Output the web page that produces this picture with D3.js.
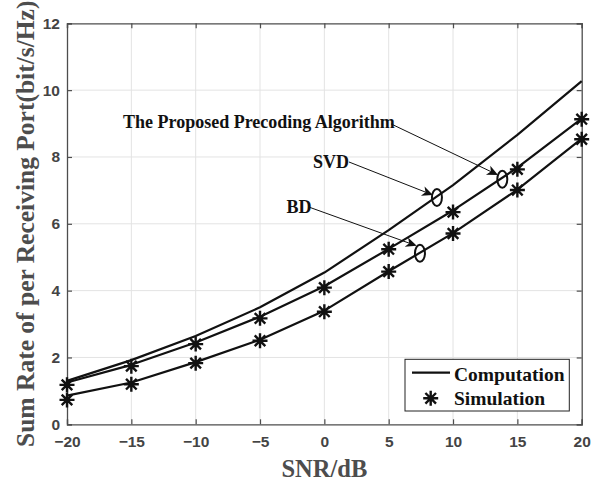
<!DOCTYPE html>
<html>
<head>
<meta charset="utf-8">
<script src="https://cdn.jsdelivr.net/npm/d3@7"></script>
<style>
  html, body { margin: 0; padding: 0; background: #fff; }
  svg { display: block; }
</style>
</head>
<body>
<svg id="chart" width="606" height="483"></svg>
<script>
// ---- data ----
const snr = [-20, -15, -10, -5, 0, 5, 10, 15, 20];
const proposedComp = [1.30, 1.92, 2.64, 3.50, 4.54, 5.81, 7.16, 8.66, 10.27];
const svdComp = [1.25, 1.78, 2.45, 3.22, 4.13, 5.25, 6.40, 7.68, 9.15];
const svdSim = [1.18, 1.74, 2.40, 3.17, 4.09, 5.24, 6.35, 7.63, 9.13];
const bdComp = [0.86, 1.25, 1.86, 2.53, 3.40, 4.58, 5.72, 7.02, 8.55];
const bdSim = [0.73, 1.20, 1.83, 2.50, 3.37, 4.57, 5.71, 7.01, 8.53];
const xTicks = [-20, -15, -10, -5, 0, 5, 10, 15, 20];
const yTicks = [0, 2, 4, 6, 8, 10, 12];
const annotations = [
  { label: "The Proposed Precoding Algorithm", tx: -15.65, ty: 8.87, sx: 5.18, sy: 8.99, ex: 13.5, ey: 7.46, cx: 13.83, cy: 7.33 },
  { label: "SVD", tx: -0.88, ty: 7.67, sx: 1.91, sy: 7.85, ex: 8.44, ey: 6.86, cx: 8.75, cy: 6.79 },
  { label: "BD", tx: -2.95, ty: 6.32, sx: -1.12, sy: 6.49, ex: 7.18, ey: 5.34, cx: 7.43, cy: 5.12 }
];
const legendItems = ["Computation", "Simulation"];
const xLabel = "SNR/dB";
const yLabel = "Sum Rate of per Receiving Port(bit/s/Hz)";

// ---- layout ----
const svg = d3.select("#chart");
const L = 67, R = 581.7, T = 23.3, B = 424.3;
const x = d3.scaleLinear().domain([-20, 20]).range([L, R]);
const y = d3.scaleLinear().domain([0, 12]).range([B, T]);
const axisColor = "#4d4d4d";
const tickFont = "Arial, 'Liberation Sans', Helvetica, sans-serif";
const serif = "'Times New Roman', 'Liberation Serif', Times, serif";

// grid
const grid = svg.append("g");
grid.selectAll("line.gx").data(xTicks.slice(1, -1)).enter().append("line")
  .attr("x1", d => x(d)).attr("x2", d => x(d)).attr("y1", T).attr("y2", B)
  .attr("stroke", "#e3e3e3").attr("stroke-width", 1);
grid.selectAll("line.gy").data(yTicks.slice(1, -1)).enter().append("line")
  .attr("y1", d => y(d)).attr("y2", d => y(d)).attr("x1", L).attr("x2", R)
  .attr("stroke", "#e3e3e3").attr("stroke-width", 1);

// axes (box)
const xAxisB = d3.axisBottom(x).tickValues(xTicks).tickSize(-5).tickPadding(12).tickFormat(d3.format("d"));
const xAxisT = d3.axisTop(x).tickValues(xTicks).tickSize(-5).tickFormat("");
const yAxisL = d3.axisLeft(y).tickValues(yTicks).tickSize(-5).tickPadding(7).tickFormat(d3.format("d"));
const yAxisR = d3.axisRight(y).tickValues(yTicks).tickSize(-5).tickFormat("");

function styleAxis(g) {
  g.select(".domain").attr("stroke", axisColor).attr("stroke-width", 1.3);
  g.selectAll(".tick line").attr("stroke", axisColor).attr("stroke-width", 1.2);
  g.selectAll(".tick text").attr("fill", "#444")
    .style("font-family", tickFont).style("font-weight", "bold").style("font-size", "15.5px");
}
svg.append("g").attr("transform", `translate(0,${B})`).call(xAxisB).call(styleAxis);
svg.append("g").attr("transform", `translate(0,${T})`).call(xAxisT).call(styleAxis);
svg.append("g").attr("transform", `translate(${L},0)`).call(yAxisL).call(styleAxis);
svg.append("g").attr("transform", `translate(${R},0)`).call(yAxisR).call(styleAxis);

// axis labels
svg.append("text").attr("x", (L + R) / 2).attr("y", 476.5).attr("text-anchor", "middle")
  .attr("fill", axisColor).style("font-family", serif).style("font-weight", "bold").style("font-size", "24.5px")
  .text(xLabel);
svg.append("text").attr("transform", `translate(34,${(T + B) / 2}) rotate(-90)`).attr("text-anchor", "middle")
  .attr("fill", axisColor).style("font-family", serif).style("font-weight", "bold").style("font-size", "25.5px")
  .text(yLabel);

// lines
const line = d3.line().x((d, i) => x(snr[i])).y(d => y(d));
[proposedComp, svdComp, bdComp].forEach(s => {
  svg.append("path").datum(s).attr("d", line).attr("fill", "none")
    .attr("stroke", "#111").attr("stroke-width", 2.2).attr("stroke-linejoin", "round");
});

// star markers
function star(g, cx, cy, r) {
  const d = r * Math.SQRT1_2;
  const p = `M${cx - r},${cy}L${cx + r},${cy}M${cx},${cy - r}L${cx},${cy + r}` +
    `M${cx - d},${cy - d}L${cx + d},${cy + d}M${cx - d},${cy + d}L${cx + d},${cy - d}`;
  g.append("path").attr("d", p).attr("stroke", "#111").attr("stroke-width", 2.4).attr("fill", "none");
}
const markers = svg.append("g");
[svdSim, bdSim].forEach(s => s.forEach((v, i) => star(markers, x(snr[i]), y(v), 7.5)));

// annotations
const ann = svg.append("g");
annotations.forEach(a => {
  ann.append("text").attr("x", x(a.tx)).attr("y", y(a.ty))
    .style("font-family", serif).style("font-weight", "bold").style("font-size", "18px")
    .attr("fill", "#111").text(a.label);
  const x1 = x(a.sx), y1 = y(a.sy), x2 = x(a.ex), y2 = y(a.ey);
  const ang = Math.atan2(y2 - y1, x2 - x1);
  const len = 11, w = 5, back = 8;
  const ux = Math.cos(ang), uy = Math.sin(ang);
  const px = -uy, py = ux;
  ann.append("line").attr("x1", x1).attr("y1", y1)
    .attr("x2", x2 - ux * back).attr("y2", y2 - uy * back)
    .attr("stroke", "#111").attr("stroke-width", 1);
  const bx = x2 - ux * len, by = y2 - uy * len;
  const nx = x2 - ux * back, ny = y2 - uy * back;
  ann.append("path")
    .attr("d", `M${x2},${y2}L${bx + px * w},${by + py * w}L${nx},${ny}L${bx - px * w},${by - py * w}Z`)
    .attr("fill", "#111");
  ann.append("ellipse").attr("cx", x(a.cx)).attr("cy", y(a.cy)).attr("rx", 5).attr("ry", 8.5)
    .attr("fill", "none").attr("stroke", "#111").attr("stroke-width", 2);
});

// legend
const lg = svg.append("g");
lg.append("rect").attr("x", 405).attr("y", 359.3).attr("width", 164.3).attr("height", 51.7)
  .attr("fill", "#fff").attr("stroke", "#222").attr("stroke-width", 1);
lg.append("line").attr("x1", 412).attr("x2", 450).attr("y1", 372.7).attr("y2", 372.7)
  .attr("stroke", "#111").attr("stroke-width", 2.2);
star(lg, 430.7, 398.3, 7.5);
lg.selectAll("text.li").data(legendItems).enter().append("text")
  .attr("x", 454).attr("y", (d, i) => 380.5 + i * 24.5)
  .style("font-family", serif).style("font-weight", "bold").style("font-size", "19.5px")
  .attr("fill", "#111").text(d => d);
</script>
</body>
</html>
